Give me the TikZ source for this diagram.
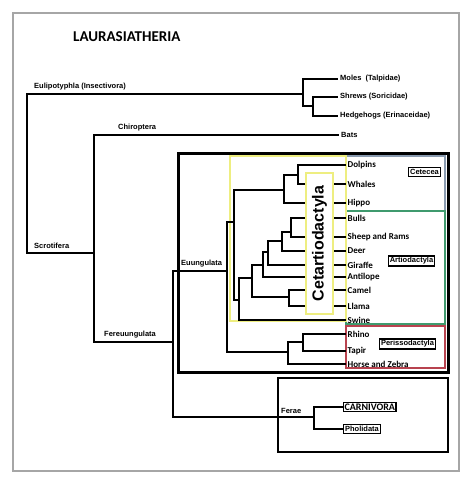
\documentclass[tikz,border=0pt]{standalone}
\usepackage{fontspec}
\setmainfont{Liberation Sans}
\newfontfamily\calibri{Carlito}
\definecolor{cetcol}{HTML}{8A9BB0}
\definecolor{artcol}{HTML}{3F9A6E}
\definecolor{percol}{HTML}{B8434F}
\definecolor{yelcol}{HTML}{EEEE80}
\begin{document}
\begin{tikzpicture}[x=1pt,y=-1pt,
    branch/.style={line width=1.4pt},
    clade/.style={font=\bfseries\fontsize{7.5}{9}\selectfont,anchor=south west,inner sep=1pt},
    taxon/.style={font=\bfseries\fontsize{7.5}{9}\selectfont,anchor=west,inner sep=2pt},
    hoof/.style={font=\calibri\bfseries\fontsize{9}{10}\selectfont,anchor=west,inner sep=1.5pt},
    tag/.style={draw,line width=1.2pt,fill=white,font=\bfseries\fontsize{7.5}{9}\selectfont,inner sep=1.5pt}]
  \useasboundingbox (0,0) rectangle (474,487);
  \draw[gray!70,line width=1.2pt] (13,13) rectangle (459,471);
  \node[anchor=west,inner sep=0pt,font=\calibri\bfseries\fontsize{15}{18}\selectfont] (title) at (73,37) {LAURASIATHERIA};

  \draw[line width=3pt] (178,153) rectangle (448,372);
  \draw[line width=2.5pt] (278,378) rectangle (448,452);
  \draw[cetcol,line width=1.5pt] (346,156) rectangle (445,211);
  \draw[artcol,line width=1.5pt] (346,211) rectangle (445,324);
  \draw[percol,line width=1.5pt] (346,326) rectangle (445,368);
  \draw[yelcol,line width=1.5pt] (230,156) rectangle (346,321);

  \node[taxon] (moles) at (338,79) {Moles\ \ (Talpidae)};
  \node[taxon] (shrews) at (338,97) {Shrews (Soricidae)};
  \node[taxon] (hedgehogs) at (338,116) {Hedgehogs (Erinaceidae)};
  \node[taxon] (bats) at (339,135) {Bats};

  \node[hoof] (dolpins) at (346,165) {Dolpins};
  \node[hoof] (whales) at (346,184) {Whales};
  \node[hoof] (hippo) at (346,203) {Hippo};
  \node[hoof] (bulls) at (346,218) {Bulls};
  \node[hoof] (sheep) at (346,237) {Sheep and Rams};
  \node[hoof] (deer) at (346,251) {Deer};
  \node[hoof] (giraffe) at (346,265) {Giraffe};
  \node[hoof] (antilope) at (346,277) {Antilope};
  \node[hoof] (camel) at (346,290) {Camel};
  \node[hoof] (llama) at (346,306) {Llama};
  \node[hoof] (swine) at (346,320) {Swine};
  \node[hoof] (rhino) at (346,334) {Rhino};
  \node[hoof] (tapir) at (346,351) {Tapir};
  \node[hoof] (horse) at (346,364) {Horse and Zebra};

  \node[tag,font=\calibri\bfseries\fontsize{10}{12}\selectfont,anchor=west,inner sep=1pt] (carnivora) at (343,407) {CARNIVORA};
  \node[tag,anchor=west] (pholidata) at (343,429) {Pholidata};
  \node[tag] (cetecea) at (424.5,172) {Cetecea};
  \node[tag] (artiodactyla) at (411.5,261) {Artiodactyla};
  \node[tag] (perissodactyla) at (407.5,344) {Perissodactyla};

  \coordinate (root) at (27,173);
  \coordinate (eul) at (303,94);
  \coordinate (eri) at (313,106);
  \coordinate (scr) at (94,253);
  \coordinate (fer) at (173,342);
  \coordinate (euu) at (227,271);
  \coordinate (ferae) at (314,417);
  \coordinate (cet) at (234,222);
  \coordinate (whip) at (284,190);
  \coordinate (cetacea) at (298,175);
  \coordinate (art) at (239,300);
  \coordinate (rum) at (252,278);
  \coordinate (tyl) at (289,297);
  \coordinate (a2) at (263,265);
  \coordinate (a3) at (268,252);
  \coordinate (a4) at (282,241);
  \coordinate (bov) at (291,232);
  \coordinate (per) at (288,352);
  \coordinate (rt) at (303,342);

  \begin{scope}[branch]
    \draw (root) |- (eul);
    \draw (root) |- (scr);
    \draw (eul) |- (moles.west);
    \draw (eul) |- (eri);
    \draw (eri) |- (shrews.west);
    \draw (eri) |- (hedgehogs.west);
    \draw (scr) |- (bats.west);
    \draw (scr) |- (fer);
    \draw (fer) |- (euu);
    \draw (fer) |- (ferae);
    \draw (ferae) |- (carnivora.west);
    \draw (ferae) |- (pholidata.west);
    \draw (euu) |- (cet);
    \draw (euu) |- (per);
    \draw (cet) |- (whip);
    \draw (cet) |- (art);
    \draw (whip) |- (cetacea);
    \draw (whip) |- (hippo.west);
    \draw (cetacea) |- (dolpins.west);
    \draw (cetacea) |- (whales.west);
    \draw (art) |- (rum);
    \draw (art) |- (swine.west);
    \draw (rum) |- (a2);
    \draw (rum) |- (tyl);
    \draw (tyl) |- (camel.west);
    \draw (tyl) |- (llama.west);
    \draw (a2) |- (a3);
    \draw (a2) |- (antilope.west);
    \draw (a3) |- (a4);
    \draw (a3) |- (giraffe.west);
    \draw (a4) |- (bov);
    \draw (a4) |- (deer.west);
    \draw (bov) |- (bulls.west);
    \draw (bov) |- (sheep.west);
    \draw (per) |- (rt);
    \draw (per) |- (horse.west);
    \draw (rt) |- (rhino.west);
    \draw (rt) |- (tapir.west);
  \end{scope}

  \node[draw=yelcol,line width=1.5pt,fill=white,rotate=90,minimum width=141pt,minimum height=27pt,inner sep=0pt,font=\bfseries\fontsize{16}{18}\selectfont] (cetart) at (319.5,243.5) {Cetartiodactyla};

  \node[clade] (lbleul) at (33,91) {Eulipotyphla (Insectivora)};
  \node[clade] (lblchi) at (117,132) {Chiroptera};
  \node[clade] (lblscr) at (33,250) {Scrotifera};
  \node[clade] (lblfer) at (103,339) {Fereuungulata};
  \node[clade] (lbleuu) at (180,268) {Euungulata};
  \node[clade] (lblferae) at (280,415) {Ferae};
\end{tikzpicture}
\end{document}
